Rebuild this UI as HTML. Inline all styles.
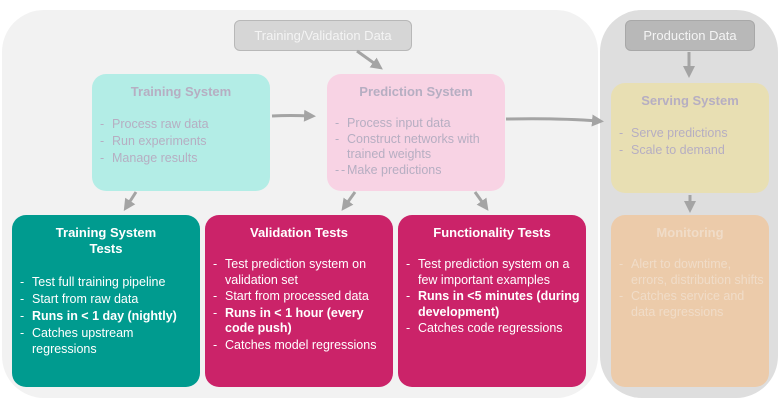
<!DOCTYPE html>
<html><head><style>
body{margin:0;width:780px;height:410px;background:#fff;position:relative;overflow:hidden;font-family:"Liberation Sans",sans-serif;}
.a{position:absolute;box-sizing:border-box;}
.t{font-weight:bold;text-align:center;font-size:13px;}
ul{list-style:none;margin:0;padding:0;font-size:12.5px;line-height:16px;}
li{position:relative;padding-left:20px;margin-bottom:1px;}
li:before{content:"-";position:absolute;left:8px;}
.w{color:#fff}
.g{color:#b6aec2}
</style></head><body>
<div class="a" style="left:2px;top:10px;width:596px;height:388px;background:#f2f2f2;border-radius:42px;"></div>
<div class="a" style="left:600px;top:10px;width:178px;height:388px;background:#dedede;border-radius:42px;"></div>

<div class="a" style="left:234px;top:20px;width:178px;height:31px;background:#d6d6d6;border:1px solid #b8b8b8;border-radius:6px;color:#f4f4f4;font-size:13px;text-align:center;line-height:29px;">Training/Validation Data</div>
<div class="a" style="left:625px;top:20px;width:130px;height:31px;background:#b8b8b8;border:1px solid #a8a8a8;border-radius:6px;color:#f4f4f4;font-size:13px;text-align:center;line-height:29px;">Production Data</div>

<div class="a g" style="left:92px;top:74px;width:178px;height:117px;background:#b3ede6;border-radius:14px;padding-top:10px;">
<div class="t" style="margin-bottom:17px">Training System</div>
<ul><li>Process raw data</li><li>Run experiments</li><li>Manage results</li></ul></div>

<div class="a g" style="left:327px;top:74px;width:178px;height:117px;background:#f8d3e4;border-radius:14px;padding-top:10px;">
<div class="t" style="margin-bottom:17px">Prediction System</div>
<ul style="line-height:15px"><li>Process input data</li><li>Construct networks with trained weights</li><li style="padding-left:20px"><span style="position:absolute;left:14px">-</span>Make predictions</li></ul></div>

<div class="a g" style="left:611px;top:83px;width:158px;height:110px;background:#e8dfb3;border-radius:14px;padding-top:10px;">
<div class="t" style="margin-bottom:17px">Serving System</div>
<ul><li>Serve predictions</li><li>Scale to demand</li></ul></div>

<div class="a" style="left:611px;top:215px;width:158px;height:172px;background:#eccbaa;border-radius:14px;padding-top:10px;color:#f0dcc8;">
<div class="t" style="margin-bottom:17px">Monitoring</div>
<ul style="line-height:15.5px"><li>Alert to downtime, errors, distribution shifts</li><li>Catches service and data regressions</li></ul></div>

<div class="a w" style="left:12px;top:215px;width:188px;height:172px;background:#009b8f;border-radius:14px;padding-top:10px;">
<div class="t" style="line-height:16px;margin-bottom:17px">Training System<br>Tests</div>
<ul><li>Test full training pipeline</li><li>Start from raw data</li><li><b>Runs in &lt; 1 day (nightly)</b></li><li>Catches upstream regressions</li></ul></div>

<div class="a w" style="left:205px;top:215px;width:188px;height:172px;background:#cb2369;border-radius:14px;padding-top:10px;">
<div class="t" style="margin-bottom:17px">Validation Tests</div>
<ul style="line-height:15.5px"><li>Test prediction system on validation set</li><li>Start from processed data</li><li><b>Runs in &lt; 1 hour (every code push)</b></li><li>Catches model regressions</li></ul></div>

<div class="a w" style="left:398px;top:215px;width:188px;height:172px;background:#cb2369;border-radius:14px;padding-top:10px;">
<div class="t" style="margin-bottom:17px">Functionality Tests</div>
<ul style="line-height:15.5px"><li>Test prediction system on a few important examples</li><li><b>Runs in &lt;5 minutes (during development)</b></li><li>Catches code regressions</li></ul></div>

<svg class="a" style="left:0;top:0" width="780" height="410">
<defs><marker id="m" markerWidth="4" markerHeight="4" refX="2" refY="2" orient="auto"><path d="M0,0L4,2L0,4z" fill="#a4a4a4"/></marker></defs>
<g stroke="#a4a4a4" stroke-width="3" fill="none" marker-end="url(#m)">
<line x1="357" y1="51" x2="378" y2="66"/>
<path d="M272,116 Q290,115 310,116"/>
<path d="M506,119 Q560,118 598,121"/>
<line x1="689" y1="52" x2="689" y2="72"/>
<line x1="136" y1="192" x2="127" y2="206"/>
<line x1="355" y1="192" x2="345" y2="206"/>
<line x1="475" y1="192" x2="485" y2="206"/>
<line x1="690" y1="195" x2="690" y2="207"/>
</g></svg>
</body></html>
